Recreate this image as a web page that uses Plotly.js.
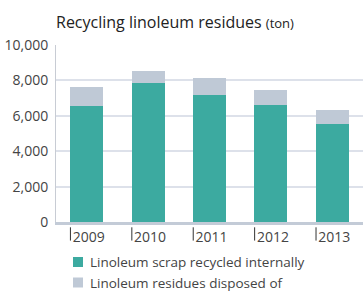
<!DOCTYPE html>
<html>
<head>
<meta charset="utf-8">
<script src="https://cdn.plot.ly/plotly-3.0.1.min.js"></script>
<style>html,body{margin:0;padding:0;background:#fff;}#chart{width:363px;height:292px;}</style>
</head>
<body>
<div id="chart"></div>
<script>
var years = ["2009", "2010", "2011", "2012", "2013"];
var recycledInternally = [6550, 7850, 7180, 6620, 5550];
var disposedOf = [1080, 690, 960, 850, 790];
var seriesNames = ["Linoleum scrap recycled internally", "Linoleum residues disposed of"];
var seriesColors = ["#3caaa0", "#bfc9d6"];
var yTicks = [0, 2000, 4000, 6000, 8000, 10000];

var FONT = "Open Sans, Noto Sans, sans-serif";
var PLOT_H = 177, PLOT_W = 307;

var traces = [
  {type: "bar", x: years, y: recycledInternally, name: seriesNames[0],
   marker: {color: seriesColors[0]}},
  {type: "bar", x: years, y: disposedOf, name: seriesNames[1],
   marker: {color: seriesColors[1]}}
];

var shapes = years.map(function (yr, i) {
  return {type: "line", xref: "x", yref: "paper",
          x0: i - 0.265, x1: i - 0.265, y0: -0.03, y1: -0.105,
          line: {color: "#333", width: 1}};
});

// legend drawn as swatches + labels
var annotations = [];
seriesNames.forEach(function (nm, k) {
  var cy = 262 + k * 20.5;            // pixel center of row
  var py = (222 - cy) / PLOT_H;       // paper y
  var px0 = (73 - 56) / PLOT_W, px1 = (83 - 56) / PLOT_W;
  shapes.push({type: "rect", xref: "paper", yref: "paper",
               x0: px0, x1: px1, y0: py - 5 / PLOT_H, y1: py + 5 / PLOT_H,
               fillcolor: seriesColors[k], line: {width: 0}});
  annotations.push({xref: "paper", yref: "paper", x: (89 - 56) / PLOT_W, y: py,
                    xanchor: "left", yanchor: "middle", showarrow: false, borderpad: 0,
                    text: nm, font: {family: FONT, size: 13.5, color: "#444"}});
});

var layout = {
  width: 363, height: 292,
  margin: {l: 56, r: 0, t: 45, b: 70, autoexpand: false},
  paper_bgcolor: "#fff", plot_bgcolor: "#fff",
  barmode: "stack", bargap: 0.46,
  showlegend: false,
  font: {family: FONT, size: 14, color: "#444"},
  title: {text: "Recycling linoleum residues <span style='font-size:13px'>(ton)</span>",
          font: {family: FONT, size: 16, color: "#222"},
          xref: "paper", x: 0, xanchor: "left",
          yref: "container", y: 1 - 22 / 292, yanchor: "middle"},
  xaxis: {type: "category", showgrid: false, zeroline: false,
          showline: true, linecolor: "#c3cbd7", linewidth: 3,
          ticks: "", tickfont: {family: FONT, size: 14, color: "#444"},
          ticklabelstandoff: 0, ticklabelshift: 2},
  yaxis: {range: [0, 10000], tickvals: yTicks, tickformat: ",d",
          showgrid: true, gridcolor: "#dde1ea", gridwidth: 2,
          zeroline: false, showline: true, linecolor: "#c8ccd4", linewidth: 1,
          ticks: "", tickfont: {family: FONT, size: 14, color: "#444"},
          ticklabelstandoff: 4},
  shapes: shapes,
  annotations: annotations
};

Plotly.newPlot("chart", traces, layout, {staticPlot: true, displayModeBar: false});
</script>
</body>
</html>
